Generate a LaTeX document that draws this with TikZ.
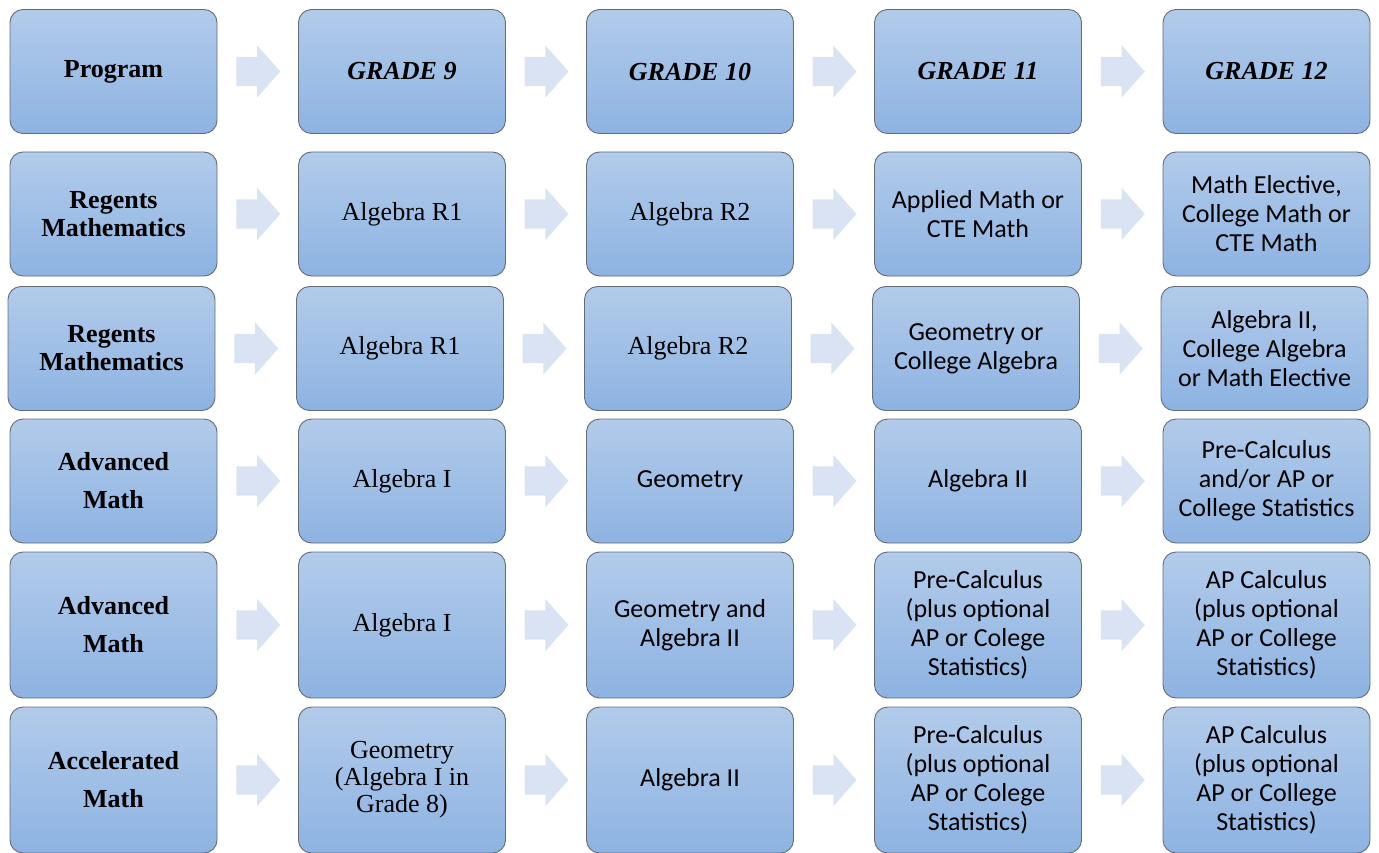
\documentclass[tikz,border=0pt]{standalone}
\usepackage{fontspec}
\setmainfont{Liberation Serif}
\newfontfamily\calibri{Carlito}
\usetikzlibrary{shapes.arrows}

\definecolor{boxtop}{RGB}{178,203,234}
\definecolor{boxbot}{RGB}{141,179,226}
\definecolor{boxline}{RGB}{100,108,122}
\definecolor{arrowfill}{RGB}{218,227,243}

\begin{document}
\begin{tikzpicture}[x=1pt, y=-1pt,
  course box/.style={rounded corners=13pt, draw=boxline, line width=0.9pt, top color=boxtop, bottom color=boxbot, minimum width=207pt, minimum height=124pt, inner sep=0pt, align=center, font=\fontsize{26}{27}\selectfont},
  tall box/.style={course box, minimum height=146pt},
  label text/.style={font=\fontsize{26}{28}\selectfont\bfseries},
  wide label/.style={font=\fontsize{26}{38}\selectfont\bfseries},
  grade text/.style={font=\fontsize{26}{28}\selectfont\bfseries\itshape},
  sans text/.style={font=\calibri\fontsize{26}{29}\selectfont},
  blockarrow/.style={single arrow, fill=arrowfill, draw=none, inner xsep=0pt, inner ysep=14.5pt, minimum height=44pt, single arrow head extend=11.5pt, single arrow tip angle=97, xshift=-6pt}]
\useasboundingbox (0,0) rectangle (1379,853);

% row 1: header
\node[course box, label text] (r1c1) at (113.5,71.5) {Program};
\node[course box, grade text] (r1c2) at (402,71.5) {GRADE 9};
\node[course box, grade text] (r1c3) at (690,71.5) {GRADE 10};
\node[course box, grade text] (r1c4) at (978,71.5) {GRADE 11};
\node[course box, grade text] (r1c5) at (1266.5,71.5) {GRADE 12};

% row 2: regents
\node[course box, label text] (r2c1) at (113.5,214) {Regents\\Mathematics};
\node[course box] (r2c2) at (402,214) {Algebra R1};
\node[course box] (r2c3) at (690,214) {Algebra R2};
\node[course box, sans text] (r2c4) at (978,214) {Applied Math or\\CTE Math};
\node[course box, sans text] (r2c5) at (1266.5,214) {Math Elective,\\College Math or\\CTE Math};

% row 3: regents (shifted a little left)
\node[course box, label text] (r3c1) at (111.5,348.5) {Regents\\Mathematics};
\node[course box] (r3c2) at (400,348.5) {Algebra R1};
\node[course box] (r3c3) at (688,348.5) {Algebra R2};
\node[course box, sans text] (r3c4) at (976,348.5) {Geometry or\\College Algebra};
\node[course box, sans text] (r3c5) at (1264.5,348.5) {Algebra II,\\College Algebra\\or Math Elective};

% row 4: advanced
\node[course box, wide label] (r4c1) at (113.5,481) {Advanced\\Math};
\node[course box] (r4c2) at (402,481) {Algebra I};
\node[course box, sans text] (r4c3) at (690,481) {Geometry};
\node[course box, sans text] (r4c4) at (978,481) {Algebra II};
\node[course box, sans text] (r4c5) at (1266.5,481) {Pre-Calculus\\and/or AP or\\College Statistics};

% row 5: advanced
\node[tall box, wide label] (r5c1) at (113.5,625) {Advanced\\Math};
\node[tall box] (r5c2) at (402,625) {Algebra I};
\node[tall box, sans text] (r5c3) at (690,625) {Geometry and\\Algebra II};
\node[tall box, sans text] (r5c4) at (978,625) {Pre-Calculus\\(plus optional\\AP or Colege\\Statistics)};
\node[tall box, sans text] (r5c5) at (1266.5,625) {AP Calculus\\(plus optional\\AP or College\\Statistics)};

% row 6: accelerated
\node[tall box, wide label] (r6c1) at (113.5,780) {Accelerated\\Math};
\node[tall box] (r6c2) at (402,780) {Geometry\\(Algebra I in\\Grade 8)};
\node[tall box, sans text] (r6c3) at (690,780) {Algebra II};
\node[tall box, sans text] (r6c4) at (978,780) {Pre-Calculus\\(plus optional\\AP or Colege\\Statistics)};
\node[tall box, sans text] (r6c5) at (1266.5,780) {AP Calculus\\(plus optional\\AP or College\\Statistics)};

\path[]
% row 1
(r1c1) edge[draw=none] node[blockarrow] {} (r1c2)
(r1c2) edge[draw=none] node[blockarrow] {} (r1c3)
(r1c3) edge[draw=none] node[blockarrow] {} (r1c4)
(r1c4) edge[draw=none] node[blockarrow] {} (r1c5)

% row 2
(r2c1) edge[draw=none] node[blockarrow] {} (r2c2)
(r2c2) edge[draw=none] node[blockarrow] {} (r2c3)
(r2c3) edge[draw=none] node[blockarrow] {} (r2c4)
(r2c4) edge[draw=none] node[blockarrow] {} (r2c5)

% row 3
(r3c1) edge[draw=none] node[blockarrow] {} (r3c2)
(r3c2) edge[draw=none] node[blockarrow] {} (r3c3)
(r3c3) edge[draw=none] node[blockarrow] {} (r3c4)
(r3c4) edge[draw=none] node[blockarrow] {} (r3c5)

% row 4
(r4c1) edge[draw=none] node[blockarrow] {} (r4c2)
(r4c2) edge[draw=none] node[blockarrow] {} (r4c3)
(r4c3) edge[draw=none] node[blockarrow] {} (r4c4)
(r4c4) edge[draw=none] node[blockarrow] {} (r4c5)

% row 5
(r5c1) edge[draw=none] node[blockarrow] {} (r5c2)
(r5c2) edge[draw=none] node[blockarrow] {} (r5c3)
(r5c3) edge[draw=none] node[blockarrow] {} (r5c4)
(r5c4) edge[draw=none] node[blockarrow] {} (r5c5)

% row 6
(r6c1) edge[draw=none] node[blockarrow] {} (r6c2)
(r6c2) edge[draw=none] node[blockarrow] {} (r6c3)
(r6c3) edge[draw=none] node[blockarrow] {} (r6c4)
(r6c4) edge[draw=none] node[blockarrow] {} (r6c5)
;

\end{tikzpicture}
\end{document}
